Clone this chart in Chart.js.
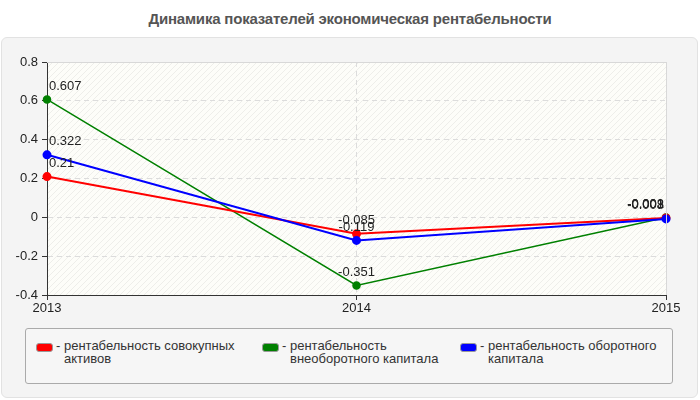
<!DOCTYPE html>
<html>
<head>
<meta charset="utf-8">
<script src="https://cdn.jsdelivr.net/npm/chart.js@4/dist/chart.umd.min.js"></script>
<style>
  html, body { margin: 0; padding: 0; background: #ffffff; }
  body { width: 700px; height: 400px; position: relative; overflow: hidden; font-family: "Liberation Sans", Arial, sans-serif; }
  #title { position: absolute; left: 0; top: 10px; width: 700px; text-align: center; font: bold 15px "Liberation Sans", Arial, sans-serif; color: #555; letter-spacing: -0.2px; }
  #panel { position: absolute; left: 1px; top: 37px; width: 695px; height: 359px; background: #f4f4f4; border: 1px solid #e2e2e2; border-radius: 6px; }
  #cv { position: absolute; left: 0; top: 37px; }
  #legend { position: absolute; left: 25px; top: 328px; width: 646px; height: 54px; border: 1px solid #aaa; border-radius: 3px; background: #f6f6f6; }
  .item { position: absolute; top: 10px; display: flex; align-items: flex-start; }
  .sw { width: 15px; height: 7px; border-radius: 3px; margin-top: 4px; margin-right: 3px; border: 1px solid #999; }
  .txt { font: 13px "Liberation Sans", Arial, sans-serif; color: #333; line-height: 13px; padding-left: 8px; text-indent: -8px; }
</style>
</head>
<body>
<div id="title">Динамика показателей экономическая рентабельности</div>
<div id="panel"></div>
<canvas id="cv" width="700" height="290"></canvas>
<div id="legend"></div>
<script>
const categories = ["2013", "2014", "2015"];
const seriesNames = ["рентабельность совокупных активов", "рентабельность внеоборотного капитала", "рентабельность оборотного капитала"];
const assetsValues = [0.21, -0.085, -0.003];
const fixedCapitalValues = [0.607, -0.351, -0.001];
const workingCapitalValues = [0.322, -0.119, -0.008];
const seriesColors = ["#ff0000", "#008000", "#0000ff"];
const yTicks = [-0.4, -0.2, 0, 0.2, 0.4, 0.6, 0.8];

const legendLeft = [10, 236, 434];
const legendTextWidth = [190, 160, 190];

function hatchPattern(ctx) {
  const p = document.createElement('canvas');
  p.width = 6; p.height = 6;
  const c = p.getContext('2d');
  c.fillStyle = '#fdfdf9';
  c.fillRect(0, 0, 6, 6);
  c.strokeStyle = '#eeeeea';
  c.lineWidth = 1;
  c.beginPath();
  c.moveTo(0, 6); c.lineTo(6, 0);
  c.moveTo(-1, 1); c.lineTo(1, -1);
  c.moveTo(5, 7); c.lineTo(7, 5);
  c.stroke();
  return ctx.createPattern(p, 'repeat');
}

const bgPlugin = {
  id: 'bg',
  beforeDraw(chart) {
    const { ctx, chartArea: a } = chart;
    ctx.save();
    ctx.fillStyle = hatchPattern(ctx);
    ctx.fillRect(a.left, a.top, a.right - a.left, a.bottom - a.top);
    ctx.restore();
  },
  afterDraw(chart) {
    const { ctx, chartArea: a } = chart;
    ctx.save();
    ctx.strokeStyle = '#d8d8d8';
    ctx.lineWidth = 1;
    ctx.beginPath();
    ctx.moveTo(a.left, a.top + 0.5); ctx.lineTo(a.right + 0.5, a.top + 0.5);
    ctx.lineTo(a.right + 0.5, a.bottom);
    ctx.stroke();
    ctx.restore();
  }
};

const labelPlugin = {
  id: 'vals',
  afterDatasetsDraw(chart) {
    const { ctx, chartArea: a } = chart;
    ctx.save();
    ctx.font = '13px "Liberation Sans", Arial, sans-serif';
    ctx.fillStyle = '#222';
    ctx.textBaseline = 'middle';
    chart.data.datasets.forEach((ds, i) => {
      const meta = chart.getDatasetMeta(i);
      meta.data.forEach((pt, j) => {
        const txt = String(ds.data[j]);
        const w = ctx.measureText(txt).width;
        let x = pt.x - w / 2;
        if (x < a.left + 2) x = a.left + 2;
        if (x + w > a.right - 2) x = a.right - 2 - w;
        ctx.textAlign = 'left';
        ctx.fillText(txt, x, pt.y - 13);
      });
    });
    ctx.restore();
  }
};

const chart = new Chart(document.getElementById('cv'), {
  type: 'line',
  data: {
    labels: categories,
    datasets: [
      { label: seriesNames[0], data: assetsValues, borderColor: seriesColors[0], backgroundColor: seriesColors[0], borderWidth: 2, pointRadius: 3.5, order: 1 },
      { label: seriesNames[1], data: fixedCapitalValues, borderColor: seriesColors[1], backgroundColor: seriesColors[1], borderWidth: 1.5, pointRadius: 3.5, order: 2 },
      { label: seriesNames[2], data: workingCapitalValues, borderColor: seriesColors[2], backgroundColor: seriesColors[2], borderWidth: 2, pointRadius: 3.5, order: 0 }
    ]
  },
  options: {
    responsive: false,
    animation: false,
    devicePixelRatio: 1,
    layout: { padding: { top: 25, right: 34, left: 0, bottom: 0 } },
    elements: { line: { tension: 0 }, point: { borderWidth: 0 } },
    plugins: { legend: { display: false }, tooltip: { enabled: false }, title: { display: false } },
    scales: {
      x: {
        offset: false,
        grid: { color: '#dcdcdc', tickColor: '#333', tickLength: 5, tickBorderDash: [] },
        border: { color: '#333', width: 1, dash: [5, 4] },
        ticks: { color: '#222', font: { size: 13, family: '"Liberation Sans", Arial, sans-serif' }, padding: 1, maxRotation: 0 },
        afterFit(s) { s.height = 32; }
      },
      y: {
        min: -0.4, max: 0.8,
        afterBuildTicks(s) { s.ticks = yTicks.map(v => ({ value: v })); },
        grid: { color: '#dcdcdc', tickColor: '#333', tickLength: 5, tickBorderDash: [] },
        border: { color: '#333', width: 1, dash: [5, 4] },
        ticks: {
          color: '#222', font: { size: 13, family: '"Liberation Sans", Arial, sans-serif' }, padding: 4,
          callback: v => String(Math.round(v * 10) / 10)
        },
        afterFit(s) { s.width = 47; }
      }
    }
  },
  plugins: [bgPlugin, labelPlugin]
});

const leg = document.getElementById('legend');
chart.data.datasets.forEach((ds, i) => {
  const it = document.createElement('div');
  it.className = 'item';
  it.style.left = legendLeft[i] + 'px';
  const sw = document.createElement('div');
  sw.className = 'sw';
  sw.style.background = ds.borderColor;
  const t = document.createElement('div');
  t.className = 'txt';
  t.style.width = legendTextWidth[i] + 'px';
  t.textContent = '- ' + ds.label;
  it.appendChild(sw); it.appendChild(t);
  leg.appendChild(it);
});
</script>
</body>
</html>
